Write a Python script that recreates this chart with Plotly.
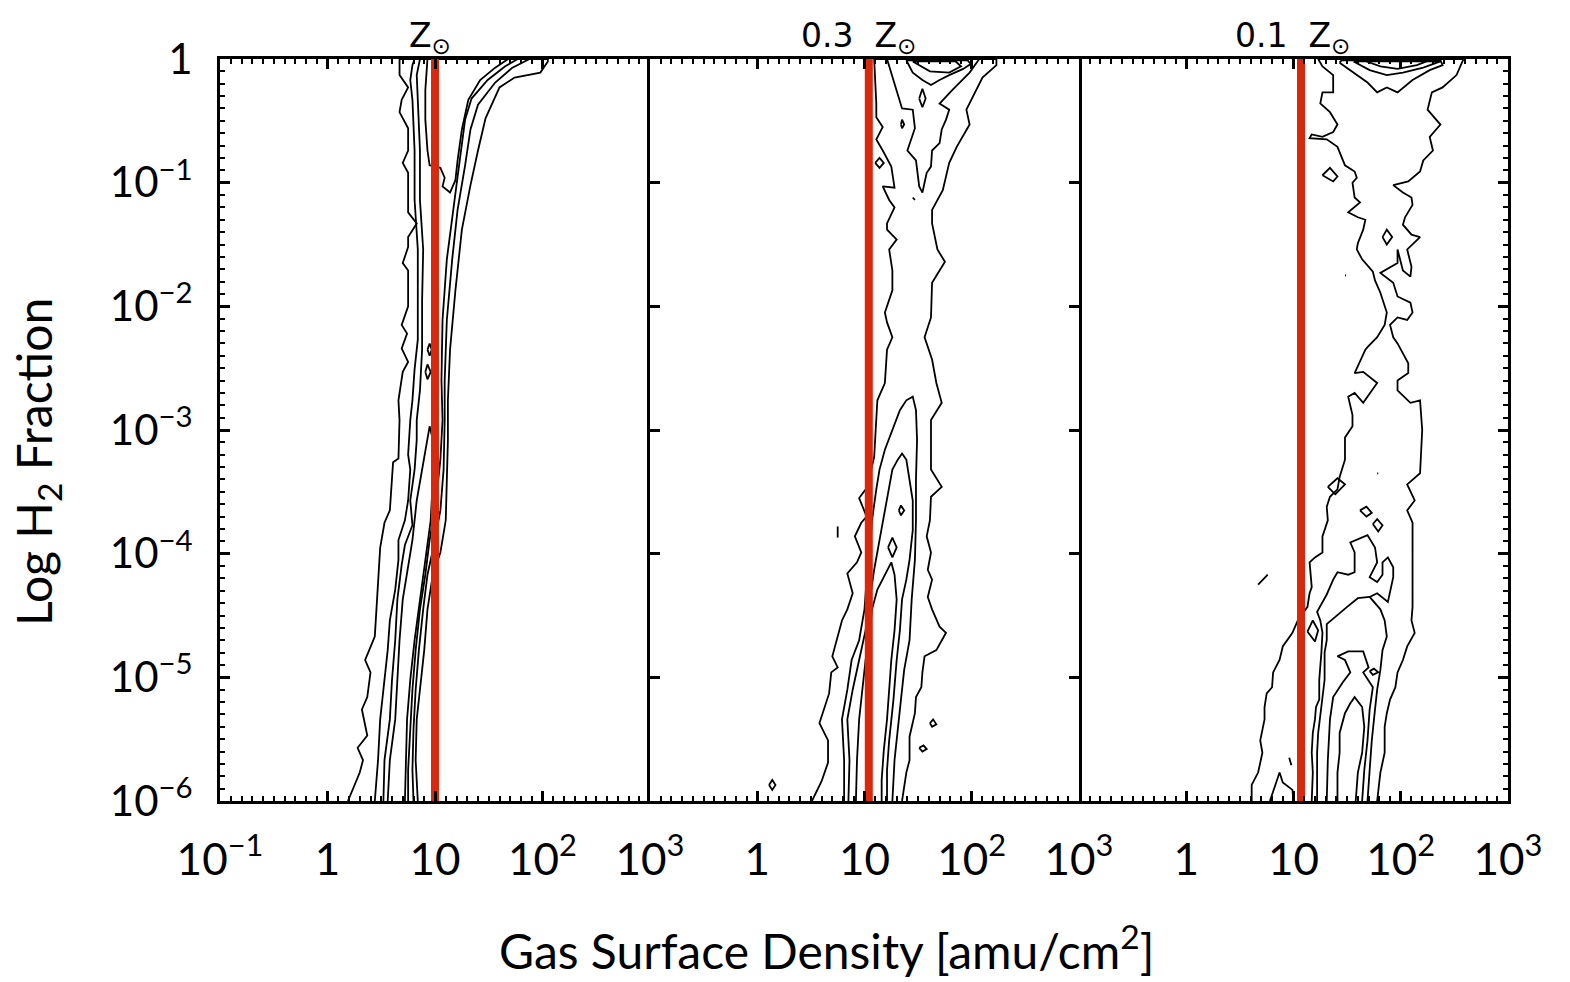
import plotly.graph_objects as go

# ---------------- data (log10 units) ----------------
RED_LINE_LOGX = [1.00, 1.04, 1.07]          # log10 Sigma of the red threshold per panel
PANEL_TITLES = ["Z<sub>⊙</sub>", "0.3  Z<sub>⊙</sub>", "0.1  Z<sub>⊙</sub>"]
X_TICKVALS = [-1, 0, 1, 2, 3]
X_TICKTEXT_FIRST = ["10<sup>−1</sup>", "1", "10", "10<sup>2</sup>", "10<sup>3</sup>"]
X_TICKTEXT_OTHER = ["", "1", "10", "10<sup>2</sup>", "10<sup>3</sup>"]
Y_TICKVALS = [-6, -5, -4, -3, -2, -1, 0]
Y_TICKTEXT = ["10<sup>−6</sup>", "10<sup>−5</sup>", "10<sup>−4</sup>", "10<sup>−3</sup>",
              "10<sup>−2</sup>", "10<sup>−1</sup>", "1"]

# Panel 1 (solar metallicity) contour paths: (log Sigma, log fH2)
P1_C1 = [(0.19,-6.00),(0.30,-5.77),(0.33,-5.67),(0.28,-5.57),(0.37,-5.47),(0.32,-5.26),(0.37,-5.16),(0.40,-4.96),(0.35,-4.86),(0.44,-4.67),(0.49,-3.95),(0.53,-3.75),(0.58,-3.65),(0.61,-3.26),(0.66,-3.23),(0.67,-2.92),(0.66,-2.76),(0.70,-2.53),(0.75,-2.45),(0.69,-2.34),(0.74,-2.22),(0.69,-2.15),(0.75,-2.00),(0.75,-1.71),(0.70,-1.65),(0.75,-1.52),(0.75,-1.44),(0.83,-1.33),(0.75,-1.24),(0.75,-0.92),(0.70,-0.84),(0.75,-0.74),(0.75,-0.56),(0.67,-0.43),(0.69,-0.33),(0.75,-0.23),(0.67,-0.13),(0.67,0.0),(2.05,0.0),(2.05,-0.02),(1.98,-0.11),(1.74,-0.15),(1.60,-0.23),(1.47,-0.48),(1.40,-0.74),(1.33,-1.02),(1.25,-1.38),(1.19,-1.87),(1.14,-2.35),(1.12,-2.76),(1.12,-3.08),(1.11,-3.40),(1.10,-3.73),(1.05,-3.99),(0.98,-4.17),(0.93,-4.45),(0.90,-4.78),(0.86,-5.10),(0.83,-5.34),(0.82,-5.67),(0.84,-6.00)]
P1_C2 = [(0.44,-6.00),(0.47,-5.67),(0.49,-5.34),(0.53,-5.02),(0.56,-4.78),(0.58,-4.54),(0.63,-4.29),(0.66,-4.05),(0.66,-3.89),(0.72,-3.73),(0.75,-3.57),(0.77,-3.32),(0.75,-3.20),(0.77,-2.92),(0.79,-2.76),(0.81,-2.51),(0.84,-2.27),(0.84,-1.95),(0.84,-1.54),(0.81,-1.14),(0.81,-0.74),(0.79,-0.33),(0.77,-0.17),(0.79,-0.05),(0.81,0.0),(1.88,0.0),(1.72,-0.07),(1.56,-0.19),(1.40,-0.37),(1.33,-0.57),(1.28,-0.86),(1.21,-1.22),(1.16,-1.62),(1.11,-2.11),(1.09,-2.60),(1.09,-2.92),(1.08,-3.32),(1.05,-3.65),(0.99,-3.93),(0.93,-4.17),(0.89,-4.45),(0.85,-4.78),(0.82,-5.10),(0.80,-5.42),(0.79,-5.75),(0.80,-6.00)]
P1_C3 = [(0.52,-6.00),(0.53,-5.67),(0.58,-5.34),(0.60,-5.02),(0.63,-4.70),(0.65,-4.37),(0.69,-4.09),(0.72,-3.93),(0.79,-3.77),(0.77,-3.57),(0.81,-3.32),(0.83,-3.08),(0.83,-2.92),(0.86,-2.68),(0.88,-2.35),(0.88,-1.95),(0.89,-1.54),(0.86,-1.14),(0.86,-0.74),(0.84,-0.33),(0.83,-0.13),(0.86,0.0),(1.77,0.0),(1.65,-0.06),(1.49,-0.17),(1.34,-0.32),(1.28,-0.49),(1.23,-0.82),(1.17,-1.22),(1.11,-1.62),(1.07,-2.11),(1.06,-2.60),(1.07,-2.92),(1.05,-3.24),(1.01,-3.57),(0.95,-3.89),(0.91,-4.17),(0.86,-4.45),(0.82,-4.78),(0.79,-5.10),(0.77,-5.42),(0.75,-5.75),(0.75,-6.00)]
P1_C4_TOP = [(0.93,0.0),(0.91,-0.25),(0.91,-0.49),(0.93,-0.74),(0.95,-0.86),(1.05,-0.88),(1.09,-0.96),(1.07,-1.03),(1.14,-1.08),(1.19,-0.98),(1.21,-0.82),(1.25,-0.57),(1.31,-0.33),(1.42,-0.17),(1.56,-0.07),(1.68,0.0)]
P1_C4_LOW = [(0.56,-6.00),(0.58,-5.67),(0.63,-5.34),(0.65,-5.02),(0.67,-4.70),(0.70,-4.37),(0.75,-4.09),(0.79,-3.89),(0.83,-3.57),(0.88,-3.32),(0.91,-3.16),(0.93,-3.04),(0.95,-2.97),(0.98,-3.08),(0.98,-3.40),(0.96,-3.73),(0.91,-4.05),(0.86,-4.37),(0.81,-4.70),(0.77,-5.02),(0.74,-5.34),(0.73,-5.67),(0.72,-6.00)]
P1_LOOPS = [
    [(0.93,-2.35),(0.95,-2.30),(0.97,-2.35),(0.95,-2.40)],
    [(0.91,-2.53),(0.93,-2.47),(0.96,-2.53),(0.93,-2.59)],
]

# Panel 2 (0.3 solar)
P2_C1 = [(0.51,-6.00),(0.60,-5.84),(0.66,-5.69),(0.66,-5.51),(0.58,-5.37),(0.63,-5.24),(0.67,-5.13),(0.69,-4.96),(0.75,-4.92),(0.70,-4.83),(0.77,-4.59),(0.79,-4.54),(0.84,-4.45),(0.89,-4.32),(0.84,-4.16),(0.93,-4.07),(0.97,-3.99),(0.91,-3.86),(0.97,-3.75),(1.02,-3.70),(0.95,-3.55),(1.02,-3.47),(1.09,-3.22),(1.11,-2.92),(1.12,-2.76),(1.19,-2.62),(1.21,-2.35),(1.26,-2.25),(1.21,-2.13),(1.19,-2.05),(1.26,-1.87),(1.26,-1.71),(1.23,-1.54),(1.30,-1.46),(1.21,-1.38),(1.21,-1.33),(1.28,-1.20),(1.23,-1.14),(1.17,-1.03),(1.28,-1.04),(1.25,-0.87),(1.17,-0.74),(1.11,-0.65),(1.17,-0.55),(1.11,-0.47),(1.11,-0.36),(1.09,0.0),(2.23,0.0),(2.23,-0.05),(2.10,-0.15),(1.95,-0.41),(1.98,-0.53),(1.86,-0.71),(1.79,-0.84),(1.73,-1.06),(1.63,-1.22),(1.63,-1.33),(1.68,-1.54),(1.75,-1.64),(1.63,-1.81),(1.62,-2.09),(1.56,-2.25),(1.63,-2.43),(1.67,-2.62),(1.72,-2.78),(1.62,-2.92),(1.62,-3.32),(1.72,-3.46),(1.62,-3.54),(1.61,-3.73),(1.58,-3.86),(1.62,-3.99),(1.59,-4.13),(1.63,-4.21),(1.59,-4.35),(1.63,-4.45),(1.70,-4.59),(1.76,-4.64),(1.67,-4.78),(1.56,-4.83),(1.54,-4.96),(1.53,-5.08),(1.48,-5.16),(1.47,-5.29),(1.42,-5.48),(1.42,-5.67),(1.39,-5.77),(1.35,-6.00)]
P2_C2_TOP = [(1.21,0.0),(1.26,-0.15),(1.30,-0.27),(1.35,-0.40),(1.45,-0.41),(1.47,-0.56),(1.40,-0.74),(1.48,-0.82),(1.51,-1.03),(1.54,-1.08),(1.58,-0.92),(1.62,-0.87),(1.63,-0.74),(1.70,-0.68),(1.72,-0.57),(1.76,-0.49),(1.79,-0.41),(1.70,-0.36),(1.82,-0.25),(1.98,-0.11),(2.07,0.0)]
P2_C2_LOW = [(0.81,-6.00),(0.81,-5.67),(0.79,-5.34),(0.84,-5.10),(0.88,-4.86),(0.95,-4.70),(1.00,-4.45),(1.02,-4.21),(1.05,-3.97),(1.07,-3.73),(1.11,-3.48),(1.14,-3.32),(1.19,-3.16),(1.26,-3.00),(1.33,-2.84),(1.39,-2.76),(1.45,-2.73),(1.48,-2.84),(1.49,-3.08),(1.48,-3.40),(1.48,-3.73),(1.47,-4.05),(1.44,-4.37),(1.42,-4.70),(1.37,-4.94),(1.34,-5.18),(1.31,-5.42),(1.28,-5.67),(1.26,-6.00)]
P2_C3_LOW = [(0.85,-6.00),(0.86,-5.67),(0.84,-5.34),(0.89,-5.10),(0.95,-4.86),(1.01,-4.62),(1.05,-4.37),(1.09,-4.13),(1.14,-3.89),(1.19,-3.65),(1.23,-3.48),(1.26,-3.32),(1.31,-3.24),(1.35,-3.19),(1.39,-3.24),(1.42,-3.40),(1.45,-3.57),(1.45,-3.81),(1.42,-4.05),(1.39,-4.21),(1.35,-4.37),(1.33,-4.62),(1.30,-4.86),(1.27,-5.18),(1.23,-5.51),(1.21,-5.75),(1.21,-6.00)]
P2_C4_LOW = [(0.92,-6.00),(0.93,-5.67),(0.95,-5.34),(0.98,-5.10),(1.01,-4.86),(1.05,-4.62),(1.07,-4.45),(1.12,-4.29),(1.19,-4.17),(1.25,-4.07),(1.28,-4.17),(1.30,-4.37),(1.28,-4.62),(1.25,-4.86),(1.23,-5.10),(1.21,-5.34),(1.18,-5.59),(1.16,-5.83),(1.16,-6.00)]
P2_LOOPS = [
    [(1.39,-0.01),(1.45,-0.11),(1.54,-0.17),(1.62,-0.21),(1.70,-0.17),(1.79,-0.13),(1.92,-0.08),(1.99,-0.04),(1.96,-0.01)],
    [(1.45,-0.02),(1.61,-0.10),(1.79,-0.11),(1.90,-0.06),(1.85,-0.02)],
    [(1.51,-0.32),(1.54,-0.24),(1.57,-0.32),(1.54,-0.39)],
    [(1.34,-0.53),(1.35,-0.49),(1.37,-0.53),(1.35,-0.56)],
    [(1.10,-0.84),(1.14,-0.80),(1.18,-0.84),(1.14,-0.88)],
    [(1.32,-3.65),(1.34,-3.61),(1.37,-3.65),(1.34,-3.69)],
    [(1.22,-3.95),(1.26,-3.87),(1.30,-3.95),(1.26,-4.03)],
    [(1.61,-5.37),(1.64,-5.34),(1.67,-5.38),(1.63,-5.40)],
    [(1.51,-5.57),(1.55,-5.55),(1.58,-5.58),(1.54,-5.60)],
    [(0.11,-5.87),(0.14,-5.83),(0.17,-5.87),(0.14,-5.91)],
]
P2_BITS = [
    [(1.45,-1.12),(1.47,-1.14)],
    [(0.75,-3.78),(0.75,-3.87)],
]

# Panel 3 (0.1 solar)
P3_C1 = [(0.61,-6.00),(0.61,-5.87),(0.67,-5.77),(0.71,-5.61),(0.69,-5.51),(0.73,-5.34),(0.73,-5.24),(0.75,-5.13),(0.80,-5.08),(0.81,-4.96),(0.87,-4.86),(0.90,-4.75),(0.99,-4.64),(1.04,-4.54),(1.13,-4.43),(1.15,-4.32),(1.17,-4.27),(1.15,-4.07),(1.20,-4.03),(1.27,-3.99),(1.27,-3.86),(1.32,-3.73),(1.31,-3.62),(1.34,-3.54),(1.41,-3.48),(1.43,-3.38),(1.48,-3.24),(1.48,-3.06),(1.55,-2.97),(1.55,-2.88),(1.51,-2.73),(1.57,-2.70),(1.65,-2.78),(1.69,-2.73),(1.78,-2.62),(1.65,-2.53),(1.57,-2.54),(1.67,-2.35),(1.69,-2.33),(1.78,-2.25),(1.85,-2.15),(1.87,-2.05),(1.81,-1.89),(1.76,-1.79),(1.74,-1.72),(1.64,-1.62),(1.59,-1.54),(1.60,-1.49),(1.65,-1.38),(1.67,-1.30),(1.60,-1.28),(1.51,-1.24),(1.56,-1.20),(1.62,-1.16),(1.57,-1.12),(1.55,-1.00),(1.59,-0.96),(1.57,-0.91),(1.48,-0.86),(1.46,-0.82),(1.41,-0.71),(1.31,-0.65),(1.15,-0.64),(1.17,-0.61),(1.27,-0.63),(1.37,-0.59),(1.41,-0.53),(1.34,-0.43),(1.25,-0.36),(1.27,-0.27),(1.37,-0.27),(1.37,-0.13),(1.34,-0.11),(1.27,-0.06),(1.23,0.0),(2.58,0.0),(2.58,-0.01),(2.52,-0.13),(2.39,-0.23),(2.29,-0.27),(2.25,-0.41),(2.37,-0.53),(2.27,-0.63),(2.30,-0.74),(2.21,-0.82),(2.18,-0.91),(2.07,-0.99),(1.93,-1.02),(2.02,-1.08),(2.10,-1.12),(2.11,-1.18),(2.04,-1.28),(2.02,-1.34),(2.10,-1.42),(2.18,-1.44),(2.09,-1.52),(2.06,-1.54),(2.10,-1.68),(2.09,-1.76),(2.02,-1.71),(1.97,-1.54),(1.97,-1.65),(1.81,-1.73),(1.93,-1.81),(1.97,-1.92),(2.09,-1.97),(2.11,-2.05),(2.06,-2.11),(1.97,-2.09),(1.90,-2.15),(1.93,-2.25),(1.97,-2.30),(2.07,-2.46),(2.07,-2.54),(1.97,-2.60),(1.97,-2.68),(2.09,-2.78),(2.18,-2.76),(2.20,-3.00),(2.18,-3.35),(2.06,-3.44),(2.13,-3.57),(2.06,-3.65),(2.11,-3.75),(2.11,-4.43),(2.10,-4.54),(2.13,-4.64),(2.06,-4.75),(2.02,-4.86),(1.97,-4.96),(1.95,-5.08),(1.90,-5.18),(1.87,-5.29),(1.85,-5.40),(1.85,-5.61),(1.81,-5.77),(1.78,-6.00)]
P3_C2 = [(1.17,-6.00),(1.18,-5.77),(1.17,-5.61),(1.18,-5.45),(1.20,-5.34),(1.21,-5.24),(1.24,-5.18),(1.24,-5.02),(1.26,-4.80),(1.27,-4.64),(1.25,-4.54),(1.22,-4.47),(1.31,-4.33),(1.37,-4.21),(1.41,-4.15),(1.51,-4.17),(1.57,-4.15),(1.57,-3.99),(1.53,-3.91),(1.69,-3.85),(1.76,-3.95),(1.78,-4.07),(1.71,-4.19),(1.78,-4.23),(1.83,-4.17),(1.83,-4.07),(1.88,-4.03),(1.93,-4.11),(1.93,-4.19),(1.88,-4.39),(1.78,-4.32),(1.71,-4.35),(1.81,-4.45),(1.85,-4.54),(1.87,-4.67),(1.83,-4.78),(1.81,-4.94),(1.78,-5.10),(1.76,-5.26),(1.73,-5.51),(1.71,-5.75),(1.69,-6.00)]
P3_C2B = [(1.71,-4.35),(1.60,-4.36),(1.50,-4.43),(1.37,-4.53),(1.31,-4.57),(1.31,-4.70),(1.29,-4.80),(1.29,-5.02),(1.27,-5.18),(1.25,-5.34),(1.23,-5.45),(1.22,-5.61),(1.22,-5.77),(1.22,-6.00)]
P3_C3 = [(1.31,-6.00),(1.32,-5.67),(1.34,-5.34),(1.37,-5.16),(1.46,-5.04),(1.53,-4.96),(1.48,-4.86),(1.41,-4.83),(1.51,-4.79),(1.65,-4.79),(1.70,-4.92),(1.65,-4.96),(1.74,-5.08),(1.71,-5.26),(1.69,-5.51),(1.66,-5.75),(1.64,-6.00)]
P3_C4 = [(1.41,-6.00),(1.41,-5.77),(1.43,-5.61),(1.43,-5.45),(1.48,-5.29),(1.53,-5.21),(1.57,-5.16),(1.64,-5.24),(1.66,-5.40),(1.64,-5.61),(1.60,-5.77),(1.58,-6.00)]
P3_SMALL_ARCH = [(0.78,-6.00),(0.87,-5.77),(0.90,-5.85),(0.99,-5.91),(1.00,-6.00)]
P3_LOOPS = [
    [(1.43,-0.03),(1.56,-0.11),(1.69,-0.19),(1.78,-0.27),(1.87,-0.23),(1.97,-0.27),(2.11,-0.17),(2.27,-0.09),(2.39,-0.05),(2.37,-0.01),(1.45,-0.01)],
    [(1.56,-0.02),(1.71,-0.09),(1.87,-0.13),(2.02,-0.11),(2.21,-0.07),(2.37,-0.02)],
    [(1.65,-0.01),(1.81,-0.06),(1.97,-0.08),(2.15,-0.05),(2.27,-0.01)],
    [(1.27,-0.94),(1.34,-0.88),(1.41,-0.95),(1.37,-0.99)],
    [(1.83,-1.44),(1.87,-1.38),(1.92,-1.44),(1.87,-1.50)],
    [(1.32,-3.46),(1.41,-3.39),(1.48,-3.44),(1.39,-3.52)],
    [(1.62,-3.65),(1.68,-3.62),(1.73,-3.67),(1.68,-3.70)],
    [(1.74,-3.76),(1.78,-3.72),(1.83,-3.77),(1.79,-3.82)],
    [(1.13,-4.63),(1.18,-4.54),(1.23,-4.62),(1.20,-4.71)],
    [(1.71,-4.95),(1.75,-4.93),(1.79,-4.96),(1.74,-4.98)],
]
P3_BITS = [
    [(1.48,-1.75),(1.49,-1.75)],
    [(1.78,-3.35),(1.79,-3.35)],
    [(0.67,-4.25),(0.76,-4.17)],
    [(0.96,-5.65),(0.98,-5.71)],
]

PANELS = [
    dict(open=[P1_C1, P1_C2, P1_C3, P1_C4_TOP, P1_C4_LOW], loops=P1_LOOPS, bits=[]),
    dict(open=[P2_C1, P2_C2_TOP, P2_C2_LOW, P2_C3_LOW, P2_C4_LOW], loops=P2_LOOPS, bits=P2_BITS),
    dict(open=[P3_C1, P3_C2, P3_C2B, P3_C3, P3_C4, P3_SMALL_ARCH], loops=P3_LOOPS, bits=P3_BITS),
]

# ---------------- layout geometry ----------------
W, H = 1570, 982
X_EDGES = [220, 650, 1079, 1508]
Y_TOP, Y_BOT = 59, 801
FONT = "Lato"
LINE_W = 1.8

fig = go.Figure()


def add_path(pts, ax, closed=False):
    xs = [p[0] for p in pts]
    ys = [p[1] for p in pts]
    if closed:
        xs.append(xs[0])
        ys.append(ys[0])
    fig.add_trace(go.Scatter(x=xs, y=ys, mode="lines",
                             line=dict(color="black", width=LINE_W),
                             xaxis="x" + ax, yaxis="y" + ax,
                             showlegend=False, hoverinfo="skip"))


for i, pan in enumerate(PANELS):
    ax = "" if i == 0 else str(i + 1)
    for path in pan["open"]:
        add_path(path, ax)
    for path in pan["loops"]:
        add_path(path, ax, closed=True)
    for path in pan["bits"]:
        add_path(path, ax)
    rv = RED_LINE_LOGX[i]
    fig.add_trace(go.Scatter(x=[rv, rv], y=[-6, 0], mode="lines",
                             line=dict(color="#d8280e", width=8),
                             xaxis="x" + ax, yaxis="y" + ax,
                             showlegend=False, hoverinfo="skip"))

ydom = [1 - Y_BOT / H, 1 - Y_TOP / H]
layout = dict(width=W, height=H, autosize=False,
              margin=dict(l=0, r=0, t=0, b=0, autoexpand=False),
              paper_bgcolor="white", plot_bgcolor="white",
              showlegend=False)

for i in range(3):
    ax = "" if i == 0 else str(i + 1)
    layout["xaxis" + ax] = dict(
        domain=[X_EDGES[i] / W, X_EDGES[i + 1] / W], automargin=False,
        anchor="y" + ax, range=[-1, 3], showgrid=False, zeroline=False,
        showline=True, linecolor="black", linewidth=3, mirror="ticks",
        ticks="inside", ticklen=10, tickwidth=2.5, tickcolor="black",
        tickmode="array", tickvals=X_TICKVALS,
        ticktext=X_TICKTEXT_FIRST if i == 0 else X_TICKTEXT_OTHER,
        tickfont=dict(family=FONT, size=44, color="black"),
        ticklabelstandoff=18,
        minor=dict(ticks="inside", ticklen=5, tickwidth=2, tickcolor="black",
                   dtick=0.1, tick0=0, showgrid=False),
    )
    ycfg = dict(domain=ydom, anchor="x" + ax, range=[-6, 0], showgrid=False,
                automargin=False,
                zeroline=False, showline=True, linecolor="black", linewidth=3,
                ticks="inside", ticklen=10, tickwidth=2.5, tickcolor="black",
                tickmode="array", tickvals=Y_TICKVALS, ticktext=Y_TICKTEXT)
    if i == 0:
        ycfg.update(side="left", mirror=False, showticklabels=True,
                    tickfont=dict(family=FONT, size=42, color="black"),
                    ticklabelstandoff=16,
                    minor=dict(ticks="inside", ticklen=5, tickwidth=2,
                               tickcolor="black", dtick=0.1, tick0=0, showgrid=False))
    elif i == 1:
        ycfg.update(mirror="ticks", showticklabels=False)
    else:
        ycfg.update(side="right", mirror=False, showticklabels=False,
                    minor=dict(ticks="inside", ticklen=5, tickwidth=2,
                               tickcolor="black", dtick=0.1, tick0=0, showgrid=False))
    layout["yaxis" + ax] = ycfg

title_x = [430, 858, 1292]
annotations = []
for i, t in enumerate(PANEL_TITLES):
    annotations.append(dict(text=t, xref="paper", yref="paper",
                            x=title_x[i] / W, y=1 - 38 / H, xanchor="center",
                            yanchor="middle", showarrow=False,
                            font=dict(family="DejaVu Sans", size=33, color="black")))
annotations.append(dict(text="Gas Surface Density [amu/cm<sup>2</sup>]",
                        xref="paper", yref="paper", x=826 / W, y=1 - 947 / H,
                        xanchor="center", yanchor="middle", showarrow=False,
                        font=dict(family=FONT, size=48, color="black")))
annotations.append(dict(text="Log H<sub>2</sub> Fraction", textangle=-90,
                        xref="paper", yref="paper", x=37 / W, y=1 - 462 / H,
                        xanchor="center", yanchor="middle", showarrow=False,
                        font=dict(family=FONT, size=48, color="black")))
layout["annotations"] = annotations

fig.update_layout(**layout)
fig.write_html("out.html")
